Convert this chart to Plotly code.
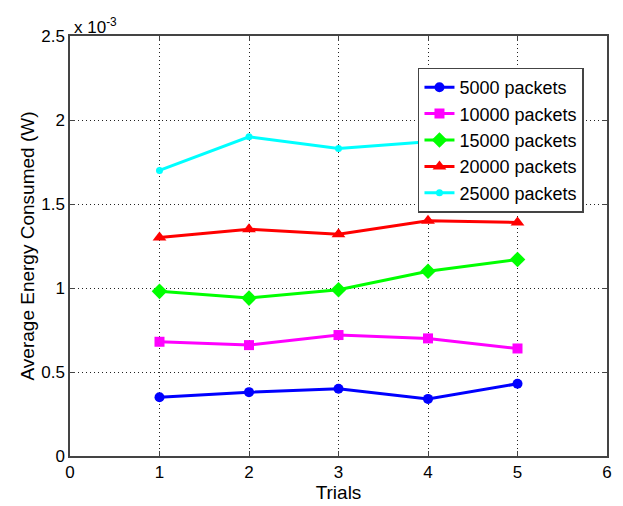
import plotly.graph_objects as go

trials = [1, 2, 3, 4, 5]
energy_5000 = [0.35e-3, 0.38e-3, 0.40e-3, 0.34e-3, 0.43e-3]
energy_10000 = [0.68e-3, 0.66e-3, 0.72e-3, 0.70e-3, 0.64e-3]
energy_15000 = [0.98e-3, 0.94e-3, 0.99e-3, 1.10e-3, 1.17e-3]
energy_20000 = [1.30e-3, 1.35e-3, 1.32e-3, 1.40e-3, 1.39e-3]
energy_25000 = [1.70e-3, 1.90e-3, 1.83e-3, 1.87e-3, 1.88e-3]

series_names = ["5000 packets", "10000 packets", "15000 packets",
                "20000 packets", "25000 packets"]
series_values = [energy_5000, energy_10000, energy_15000, energy_20000, energy_25000]
colors = ["#0000ff", "#ff00ff", "#00ff00", "#ff0000", "#00ffff"]
symbols = ["circle", "square", "diamond", "triangle-up", "circle"]
marker_sizes = [10, 10, 12, 12, 7]

y_ticks = [0, 0.5e-3, 1.0e-3, 1.5e-3, 2.0e-3, 2.5e-3]
y_tick_text = ["0", "0.5", "1", "1.5", "2", "2.5"]
x_ticks = [0, 1, 2, 3, 4, 5, 6]

FONT = "Liberation Sans, Arial, sans-serif"

fig = go.Figure()
for name, vals, c, s, ms in zip(series_names, series_values, colors, symbols, marker_sizes):
    fig.add_trace(go.Scatter(
        x=trials, y=vals, name=name, mode="lines+markers",
        line=dict(color=c, width=3),
        marker=dict(symbol=s, size=ms, color=c),
    ))

axis_common = dict(
    showline=True, linecolor="#444444", linewidth=1.5, mirror="ticks",
    ticks="inside", ticklen=5, tickcolor="#444444",
    showgrid=True, gridcolor="#222222", griddash="1px,3px", gridwidth=1,
    zeroline=False, tickfont=dict(family=FONT, size=17, color="black"),
)

fig.update_layout(
    width=623, height=506,
    margin=dict(l=70, r=11, t=36, b=47),
    paper_bgcolor="white", plot_bgcolor="white",
    font=dict(family=FONT, size=17, color="black"),
    xaxis=dict(range=[0, 6], tickvals=x_ticks,
               title=dict(text="Trials", font=dict(family=FONT, size=19), standoff=0),
               **axis_common),
    yaxis=dict(range=[0, 2.5e-3], tickvals=y_ticks, ticktext=y_tick_text,
               title=dict(text="Average Energy Consumed (W)", font=dict(family=FONT, size=19), standoff=2),
               **axis_common),
    legend=dict(x=0.648, y=0.925, xanchor="left", yanchor="top",
                bgcolor="white", bordercolor="#444444", borderwidth=1.5,
                font=dict(family=FONT, size=18, color="black"),
                tracegroupgap=0, itemwidth=30),
    showlegend=True,
)

fig.add_annotation(
    x=0, y=1, xref="paper", yref="paper", xanchor="left", yanchor="bottom",
    text="x 10<sup>-3</sup>", showarrow=False,
    font=dict(family=FONT, size=17, color="black"), xshift=2, yshift=-3,
)

fig.write_html("out.html")
